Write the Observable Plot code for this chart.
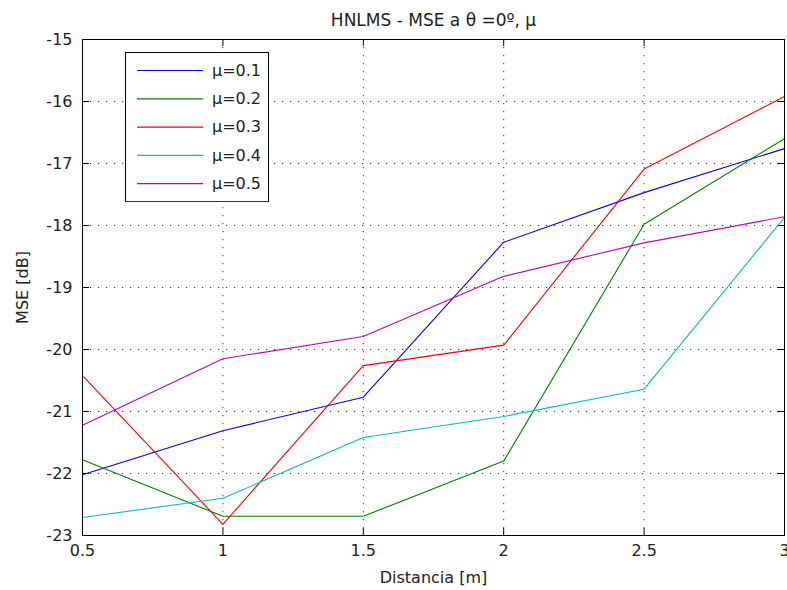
<!DOCTYPE html>
<html>
<head>
<meta charset="utf-8">
<script src="https://cdn.jsdelivr.net/npm/d3@7"></script>
<script src="https://cdn.jsdelivr.net/npm/@observablehq/plot@0.6"></script>
<style>
  body { margin: 0; background: #fff; }
  #chart { position: relative; width: 787px; height: 590px; font-family: "DejaVu Sans", sans-serif; }
  #legend { position: absolute; left: 125px; top: 52px; }
</style>
</head>
<body>
<div id="chart"></div>
<script>
// Distance (m) at which the MSE was measured
const distances = [0.5, 1, 1.5, 2, 2.5, 3];

// MSE in dB for each step size μ
const mu01 = [-22.02, -21.31, -20.77, -18.27, -17.47, -16.76];
const mu02 = [-21.78, -22.69, -22.69, -21.80, -17.98, -16.60];
const mu03 = [-20.42, -22.82, -20.26, -19.93, -17.09, -15.92];
const mu04 = [-22.71, -22.40, -21.42, -21.08, -20.64, -17.87];
const mu05 = [-21.22, -20.15, -19.79, -18.82, -18.28, -17.86];

const seriesNames = ["μ=0.1", "μ=0.2", "μ=0.3", "μ=0.4", "μ=0.5"];
const seriesValues = [mu01, mu02, mu03, mu04, mu05];
const seriesColors = ["#0000ff", "#008000", "#ff0000", "#00bfbf", "#bf00bf"];

const xTicks = [0.5, 1, 1.5, 2, 2.5, 3];
const yTicks = [-23, -22, -21, -20, -19, -18, -17, -16, -15];

const titleText = "HNLMS - MSE a θ =0º, μ";
const xLabel = "Distancia [m]";
const yLabel = "MSE [dB]";

// long-format table for the line mark
const rows = seriesNames.flatMap((name, i) =>
  distances.map((d, j) => ({ serie: name, x: d, y: seriesValues[i][j] }))
);

const W = 787, H = 590;
const mL = 82, mR = 3, mT = 39, mB = 55;
const innerW = W - mL - mR, innerH = H - mT - mB;
const tickLen = 7;
const dotted = "1.2,6.8";
const font = "DejaVu Sans, sans-serif";

const plot = Plot.plot({
  width: W,
  height: H,
  marginLeft: mL,
  marginRight: mR,
  marginTop: mT,
  marginBottom: mB,
  style: { fontFamily: font, fontSize: "17px", color: "#222", background: "#fff" },
  x: { domain: [0.5, 3] },
  y: { domain: [-23, -15] },
  color: { domain: seriesNames, range: seriesColors },
  marks: [
    // dotted grid
    Plot.gridX(xTicks, { stroke: "#000", strokeOpacity: 0.8, strokeDasharray: dotted, strokeWidth: 1 }),
    Plot.gridY(yTicks, { stroke: "#000", strokeOpacity: 0.8, strokeDasharray: dotted, strokeWidth: 1 }),
    // inward tick marks on all four sides
    Plot.tickX(xTicks, { x: d => d, insetTop: innerH - tickLen, stroke: "#000" }),
    Plot.tickX(xTicks, { x: d => d, insetBottom: innerH - tickLen, stroke: "#000" }),
    Plot.tickY(yTicks, { y: d => d, insetRight: innerW - tickLen, stroke: "#000" }),
    Plot.tickY(yTicks, { y: d => d, insetLeft: innerW - tickLen, stroke: "#000" }),
    // axes: labels only
    Plot.axisX(xTicks, {
      tickSize: 0, tickPadding: 9, tickFormat: d => String(d), fontSize: 16,
      label: xLabel, labelAnchor: "center", labelArrow: "none", labelOffset: 47
    }),
    Plot.axisY(yTicks, {
      tickSize: 0, tickPadding: 10, tickFormat: d => String(d), fontSize: 16,
      label: yLabel, labelAnchor: "center", labelArrow: "none", labelOffset: 66
    }),
    // data lines
    Plot.line(rows, { x: "x", y: "y", stroke: "serie", strokeWidth: 1.1, curve: "linear" }),
    Plot.frame({ stroke: "#000", strokeWidth: 1 }),
    // title
    Plot.text([titleText], { text: d => d, frameAnchor: "top", dy: -26, fontSize: 17, fill: "#222" })
  ]
});

const chart = document.getElementById("chart");
chart.appendChild(plot);

// legend box drawn from the series names and colours
const lw = 143, rowH = 28.3, top0 = 18;
const lh = top0 + rowH * (seriesNames.length - 1) + 18;
const leg = d3.create("svg")
  .attr("id", "legend")
  .attr("width", lw + 1)
  .attr("height", lh + 1);
leg.append("rect")
  .attr("x", 0.5).attr("y", 0.5)
  .attr("width", lw).attr("height", lh)
  .attr("fill", "#fff").attr("stroke", "#000");
const item = leg.selectAll("g").data(seriesNames).join("g")
  .attr("transform", (d, i) => `translate(0,${top0 + i * rowH})`);
item.append("line")
  .attr("x1", 12).attr("x2", 78).attr("y1", 0.5).attr("y2", 0.5)
  .attr("stroke", (d, i) => seriesColors[i]).attr("stroke-width", 1.2);
item.append("text")
  .attr("x", 87).attr("y", 0).attr("dy", "0.35em")
  .attr("font-size", 16).attr("fill", "#222")
  .attr("font-family", font)
  .text(d => d);
chart.appendChild(leg.node());
</script>
</body>
</html>
